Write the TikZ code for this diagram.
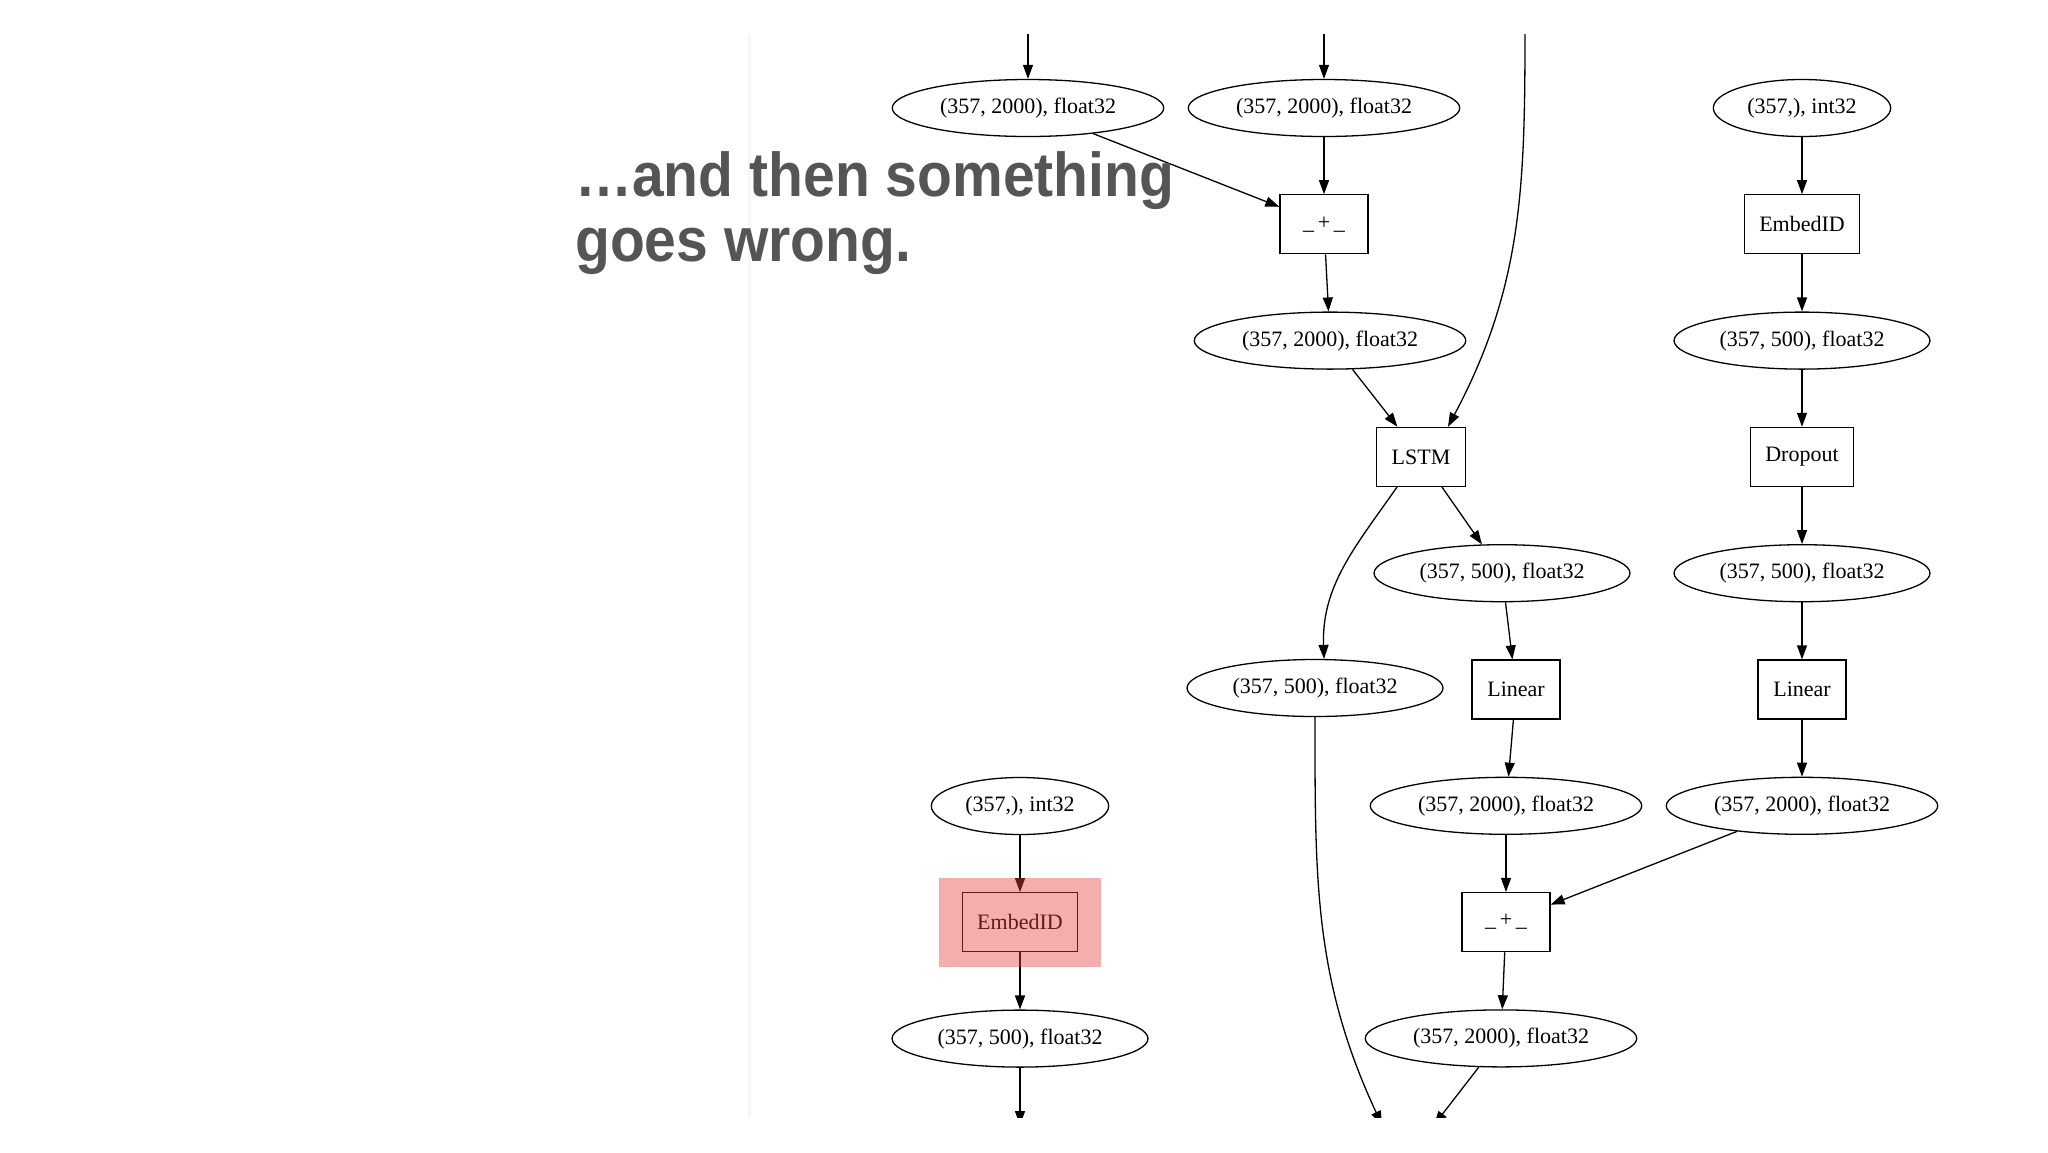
\documentclass[tikz,border=0pt]{standalone}
\usepackage{fontspec}
\setmainfont{Liberation Serif}
\newfontfamily\headfont[FakeStretch=0.92]{Liberation Sans}
\usetikzlibrary{arrows.meta, positioning, shapes.geometric, fit}
\definecolor{headgray}{RGB}{85,85,85}
\definecolor{errred}{RGB}{232,60,60}

\begin{document}
\begin{tikzpicture}[
  x=1pt, y=-1pt,
  node distance=57pt,
  every node/.style={font=\fontsize{22}{24}\selectfont},
  tensor/.style={ellipse, draw, line width=1.3pt, inner xsep=8pt, inner ysep=0pt,
                 minimum height=57pt},
  func/.style={rectangle, draw, line width=1.3pt, inner xsep=15pt,
               minimum width=88pt, minimum height=59pt},
  flow/.style={line width=1.3pt, -{Triangle[length=14pt, width=10pt]}},
  headline/.style={font=\headfont\bfseries\fontsize{62}{66}\selectfont,
                   text=headgray, inner sep=0pt},
  hilite/.style={draw=none, fill=errred, fill opacity=0.42,
                 inner xsep=23pt, inner ysep=14.5pt}
]
  \fill[white] (0,0) rectangle (2048,1152);
  \useasboundingbox (0,0) rectangle (2048,1152);
  \draw[black!3, line width=3pt] (749,34) -- (749,1117);

  % graph nodes
  \node[tensor] (inA) at (1028,108) {(357, 2000), float32};
  \node[tensor] (inB) at (1324,108) {(357, 2000), float32};
  \node[tensor] (tokR) at (1802,108) {(357,), int32};
  \node[func, below=of inB] (plusA) {\_\,+\,\_};
  \node[func, below=of tokR] (embR) {EmbedID};
  \node[tensor, below=of plusA, xshift=6pt] (hA) {(357, 2000), float32};
  \node[tensor, below=of embR] (vecR) {(357, 500), float32};
  \node[func, below=of hA, xshift=91pt] (lstm) {LSTM};
  \node[func, below=of vecR] (drop) {Dropout};
  \node[tensor, below=of lstm, xshift=81pt] (hOut) {(357, 500), float32};
  \node[tensor, below=of drop] (vecD) {(357, 500), float32};
  \node[tensor] (cOut) at (1315,688) {(357, 500), float32};
  \node[func, below=of hOut, xshift=14pt] (linA) {Linear};
  \node[func, below=of vecD] (linB) {Linear};
  \node[tensor, below=of linA, xshift=-10pt] (preA) {(357, 2000), float32};
  \node[tensor, below=of linB] (preB) {(357, 2000), float32};
  \node[func, below=of preA] (plusB) {\_\,+\,\_};
  \node[tensor, below=of plusB, xshift=-5pt] (sum) {(357, 2000), float32};
  \node[tensor] (tokL) at (1020,806) {(357,), int32};
  \node[func, below=of tokL] (embL) {EmbedID};
  \node[tensor, below=of embL] (vecL) {(357, 500), float32};

  % loose ends, cut by the screen edge
  \coordinate (topA) at (1028,20);
  \coordinate (topB) at (1324,20);
  \coordinate (topC) at (1525,20);
  \coordinate (botA) at (1020,1125);
  \coordinate (botB) at (1382,1125);
  \coordinate (botC) at (1434,1125);

  \begin{scope}
    \clip (0,34) rectangle (2048,1117);
    \draw[flow] (topA) -- (inA);
    \draw[flow] (topB) -- (inB);
    \draw[flow] (topC) to[out=-90, in=62] ([xshift=-18pt]lstm.north east);
    \draw[flow] (inA) -- (plusA);
    \draw[flow] (inB) -- (plusA);
    \draw[flow] (plusA) -- (hA);
    \draw[flow] (hA) -- (lstm);
    \draw[flow] (lstm) -- (hOut);
    \draw[flow] ([xshift=-24pt]lstm.south) to[out=-125, in=92] ([xshift=9pt]cOut.north);
    \draw[flow] (hOut) -- (linA);
    \draw[flow] (linA) -- (preA);
    \draw[flow] (preA) -- (plusB);
    \draw[flow] (preB) -- (plusB);
    \draw[flow] (plusB) -- (sum);
    \draw[flow] (sum) -- (botC);
    \draw[flow] (cOut.south) to[out=-90, in=115] (botB);
    \draw[flow] (tokR) -- (embR);
    \draw[flow] (embR) -- (vecR);
    \draw[flow] (vecR) -- (drop);
    \draw[flow] (drop) -- (vecD);
    \draw[flow] (vecD) -- (linB);
    \draw[flow] (linB) -- (preB);
    \draw[flow] (tokL) -- (embL);
    \draw[flow] (embL) -- (vecL);
    \draw[flow] (vecL) -- (botA);
  \end{scope}

  % the failing call
  \node[hilite, fit=(embL)] (fault) {};

  \node[headline, anchor=base west] (head1) at (575,196) {…and then something};
  \node[headline, anchor=base west] (head2) at ([yshift=-65pt]head1.base west) {goes wrong.};
\end{tikzpicture}
\end{document}
